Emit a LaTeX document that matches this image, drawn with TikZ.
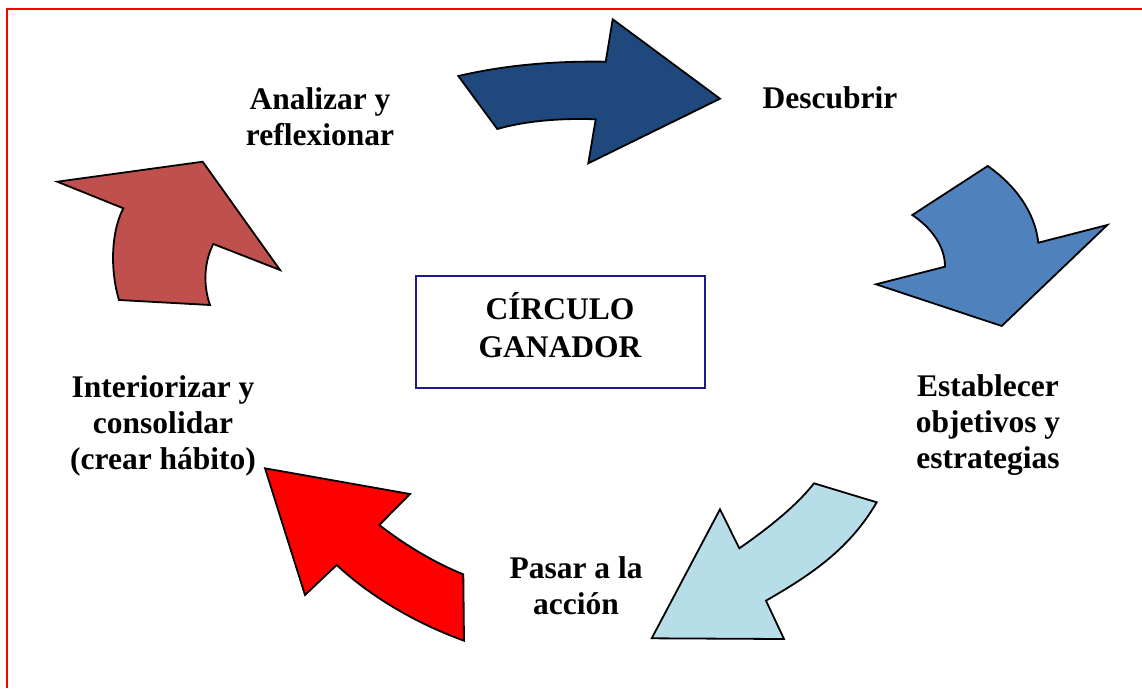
\documentclass[tikz,border=0pt]{standalone}
\usepackage{fontspec}
\setmainfont{Liberation Serif}
\definecolor{arrA}{HTML}{1F497D}
\definecolor{arrB}{HTML}{4F81BD}
\definecolor{arrC}{HTML}{B7DEE8}
\definecolor{arrD}{HTML}{FF0000}
\definecolor{arrE}{HTML}{C0504D}
\definecolor{boxblue}{HTML}{1A1A8C}
\begin{document}
\begin{tikzpicture}[x=1pt,y=-1pt,
  arrowshape/.style={draw=black,line width=1.8pt,line join=miter},
  lbl/.style={font=\fontsize{31.5}{36}\selectfont\bfseries,align=center,anchor=base,inner sep=0pt}]
\useasboundingbox (0,0) rectangle (1142,688);
\draw[red,line width=2.4pt] (7,688) -- (7,9) -- (1142,9);

% arrow 1 (dark blue)
\filldraw[arrowshape,fill=arrA] (458.3,76) .. controls (510,64) and (560,61) .. (605.7,61.7)
  -- (612.7,19.3) -- (720,98.7) -- (588.3,163.3) -- (595.7,119.3)
  .. controls (560,118) and (525,121) .. (497.3,129) -- cycle;
% arrow 2 (blue)
\filldraw[arrowshape,fill=arrB] (987.7,166) .. controls (1015,185) and (1035,212) .. (1038.3,242.7)
  -- (1107.3,225) -- (1001.7,326) -- (876,284.3) -- (945,266.7)
  .. controls (945,245) and (930,227) .. (912.3,215) -- cycle;
% arrow 3 (light blue)
\filldraw[arrowshape,fill=arrC] (814,483.3) -- (876.7,502.3)
  .. controls (848,552) and (805,578) .. (766,600.7)
  -- (784,639) -- (651.7,638.3) -- (720,509.3) -- (739.3,548.3)
  .. controls (770,527) and (797,505) .. (814,483.3) -- cycle;
% arrow 4 (red)
\filldraw[arrowshape,fill=arrD] (265,468.3) -- (410,494) -- (379.3,525)
  .. controls (405,545) and (435,563) .. (463.3,574.3)
  -- (464,640.7)
  .. controls (418,624) and (372,598) .. (336.7,565)
  -- (305,595) -- cycle;
% arrow 5 (brick red)
\filldraw[arrowshape,fill=arrE] (57.3,181.7) -- (202.7,161.7) -- (280,270) -- (213.3,244)
  .. controls (204,262) and (203,285) .. (210,305)
  -- (119,300)
  .. controls (110,270) and (111,232) .. (123.3,208.3) -- cycle;

% central box
\node[draw=boxblue,line width=2pt,minimum width=289pt,minimum height=112pt,inner sep=0pt] (box) at (560.3,332.2) {};
\node[lbl] (title) at (560,357) {CÍRCULO\\[2pt]GANADOR};

% labels (base = baseline of last line)
\node[lbl] (analizar) at (320,145) {Analizar y\\reflexionar};
\node[lbl] (descubrir) at (830,108) {Descubrir};
\node[lbl] (establecer) at (988,468) {Establecer\\objetivos y\\estrategias};
\node[lbl] (pasar) at (576,614) {Pasar a la\\acción};
\node[lbl] (interiorizar) at (163,469) {Interiorizar y\\consolidar\\(crear hábito)};
\end{tikzpicture}
\end{document}
